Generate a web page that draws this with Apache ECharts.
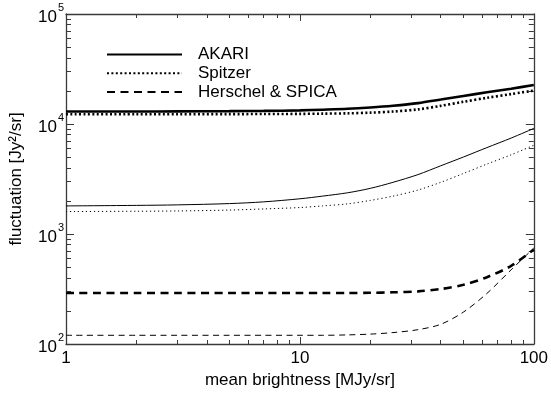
<!DOCTYPE html>
<html>
<head>
<meta charset="utf-8">
<script src="https://cdn.jsdelivr.net/npm/echarts@6/dist/echarts.min.js"></script>
<style>
  html, body { margin: 0; padding: 0; background: #fff; }
  #chart { width: 551px; height: 394px; }
</style>
</head>
<body>
<div id="chart"></div>
<script>
// Mean brightness samples [MJy/sr]
const brightness = [1, 2, 3, 5, 7, 10, 12.5, 16, 20, 25, 32, 40, 50, 63, 80, 100];

// Fluctuation [Jy^2/sr] — bright-source curves (thick) and faint curves (thin)
const akariBright    = [13000, 13000, 13030, 13080, 13150, 13300, 13490, 13740, 14130, 14660, 15490, 16670, 17990, 19410, 20940, 22650];
const spitzerBright  = [12250, 12270, 12280, 12300, 12320, 12360, 12420, 12500, 12680, 12970, 13580, 14620, 15920, 17300, 18710, 20140];
const herschelBright = [291, 291, 291, 291, 291, 291, 291, 291, 292, 295, 301, 316, 345, 405, 513, 724];
const akariFaint     = [1800, 1820, 1840, 1890, 1960, 2090, 2210, 2370, 2600, 2950, 3470, 4170, 5010, 6100, 7450, 9120];
const spitzerFaint   = [1600, 1610, 1620, 1650, 1690, 1740, 1800, 1880, 2020, 2210, 2510, 2950, 3550, 4320, 5250, 6410];
const herschelFaint  = [120, 120, 120, 120, 120, 120, 120, 121, 123, 127, 135, 151, 195, 288, 473, 745];

// Axis ticks
const xMajor = [1, 10, 100];
const xMinor = [2, 3, 4, 5, 6, 7, 8, 9, 20, 30, 40, 50, 60, 70, 80, 90];
const yMajor = [100, 1000, 10000, 100000];
const yMinor = [200, 300, 400, 500, 600, 700, 800, 900,
                2000, 3000, 4000, 5000, 6000, 7000, 8000, 9000,
                20000, 30000, 40000, 50000, 60000, 70000, 80000, 90000];

const FONT = 'Liberation Sans';
const FRAME = '#3a3a3a';
const FS = 17;

function pairs(ys) { return brightness.map((x, i) => [x, ys[i]]); }

function xAxisDef(pos, ticks, len, showLabel, showLine) {
  return {
    type: 'log', logBase: 10, min: 1, max: 100, position: pos,
    axisLine: { show: showLine, onZero: false, lineStyle: { color: FRAME, width: 1.3 } },
    axisTick: { show: true, inside: true, length: len, customValues: ticks,
                lineStyle: { color: FRAME, width: 1 } },
    axisLabel: showLabel ? { show: true, customValues: xMajor, margin: 6,
                             color: '#000', fontFamily: FONT, fontSize: FS } : { show: false },
    splitLine: { show: false }, minorTick: { show: false }
  };
}

function yAxisDef(pos, ticks, len, showLabel, showLine) {
  return {
    type: 'log', logBase: 10, min: 100, max: 100000, position: pos,
    axisLine: { show: showLine, onZero: false, lineStyle: { color: FRAME, width: 1.3 } },
    axisTick: { show: true, inside: true, length: len, customValues: ticks,
                lineStyle: { color: FRAME, width: 1 } },
    axisLabel: showLabel ? {
      show: true, customValues: yMajor, margin: 2,
      formatter: v => '{b|10}{s|' + Math.round(Math.log10(v)) + '}',
      rich: {
        b: { fontFamily: FONT, fontSize: FS, color: '#000', padding: [6, 0, 0, 0] },
        s: { fontFamily: FONT, fontSize: 11, color: '#000', verticalAlign: 'top', padding: [0, 0, 0, 1] }
      }
    } : { show: false },
    splitLine: { show: false }, minorTick: { show: false }
  };
}

function line(name, ys, width, dash) {
  return {
    name, type: 'line', data: pairs(ys), xAxisIndex: 0, yAxisIndex: 0,
    symbol: 'none', smooth: 0.3, silent: true,
    itemStyle: { color: '#000' },
    lineStyle: { color: '#000', width, type: dash || 'solid' }
  };
}

const chart = echarts.init(document.getElementById('chart'), null, { renderer: 'canvas' });
chart.setOption({
  animation: false,
  backgroundColor: '#fff',
  grid: { left: 65, right: 13, top: 14, bottom: 45 },
  xAxis: [
    Object.assign(xAxisDef('bottom', xMajor, 7, true, true), {
      name: 'mean brightness [MJy/sr]', nameLocation: 'middle', nameGap: 28,
      nameTextStyle: { fontFamily: FONT, fontSize: FS, color: '#000' }
    }),
    xAxisDef('bottom', xMinor, 4, false, false),
    xAxisDef('top', xMajor, 7, false, true),
    xAxisDef('top', xMinor, 4, false, false)
  ],
  yAxis: [
    Object.assign(yAxisDef('left', yMajor, 8, true, true), {
      name: 'fluctuation [Jy²/sr]', nameLocation: 'middle', nameGap: 41,
      nameTextStyle: { fontFamily: FONT, fontSize: FS, color: '#000' }
    }),
    yAxisDef('left', yMinor, 5, false, false),
    yAxisDef('right', yMajor, 8, false, true),
    yAxisDef('right', yMinor, 5, false, false)
  ],
  legend: {
    data: ['AKARI', 'Spitzer', 'Herschel & SPICA'],
    orient: 'vertical', left: 101, top: 41,
    itemWidth: 75, itemHeight: 17, itemGap: 1.8,
    selectedMode: false,
    itemStyle: { color: 'rgba(0,0,0,0)', borderColor: 'rgba(0,0,0,0)', borderWidth: 0, opacity: 0 },
    textStyle: { fontFamily: FONT, fontSize: FS, lineHeight: 17, color: '#000', padding: [0, 0, 0, 11] }
  },
  series: [
    line('AKARI', akariBright, 2.6),
    line('Spitzer', spitzerBright, 2.6, [2, 2.4]),
    line('Herschel & SPICA', herschelBright, 2.6, [8, 5.5]),
    line('AKARI faint', akariFaint, 1),
    line('Spitzer faint', spitzerFaint, 1, [1.2, 2.8]),
    line('Herschel & SPICA faint', herschelFaint, 1, [6, 4.5])
  ]
});
</script>
</body>
</html>
